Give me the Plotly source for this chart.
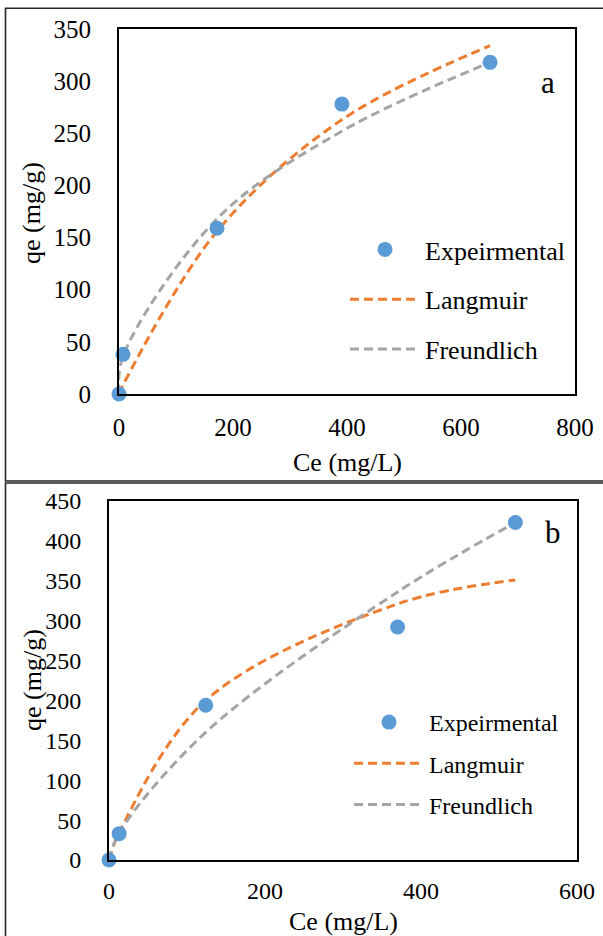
import plotly.graph_objects as go

# ---------------- data ----------------
top_ce = [0, 7, 172, 391, 651]
top_qe_exp = [0, 38, 159, 278, 318]
top_qe_langmuir = [0, 8.6, 156, 263, 334]
top_qe_freundlich = [0, 36, 168, 252, 318]

bot_ce = [0, 13, 124, 370, 521]
bot_qe_exp = [0, 33, 194, 292, 423]
bot_qe_langmuir = [0, 34, 200, 321, 351]
bot_qe_freundlich = [0, 34, 160, 336, 423]

series_names = ["Expeirmental", "Langmuir", "Freundlich"]
x_title = "Ce (mg/L)"
y_title = "qe (mg/g)"
panel_labels = ["a", "b"]

# ---------------- style ----------------
W, H = 603, 936
FONT = "Times New Roman, Liberation Serif, serif"
BLUE = "#5B9BD5"
ORANGE = "#ED7D31"
GRAY = "#A5A5A5"
DASH = "9px,5px"


def px(x):
    return x / W


def py(y):
    return 1 - y / H


fig = go.Figure()


def add_panel(ce, qe, lang, freu, xa, ya, legend):
    fig.add_trace(go.Scatter(
        x=ce, y=lang, name=series_names[1], mode="lines",
        line=dict(color=ORANGE, width=3, dash=DASH, shape="spline"),
        xaxis=xa, yaxis=ya, legend=legend, legendgroup=legend + "l",
        legendrank=2, cliponaxis=False))
    fig.add_trace(go.Scatter(
        x=ce, y=freu, name=series_names[2], mode="lines",
        line=dict(color=GRAY, width=3, dash=DASH, shape="spline"),
        xaxis=xa, yaxis=ya, legend=legend, legendgroup=legend + "f",
        legendrank=3, cliponaxis=False))
    fig.add_trace(go.Scatter(
        x=ce, y=qe, name=series_names[0], mode="markers",
        marker=dict(color=BLUE, size=15),
        xaxis=xa, yaxis=ya, legend=legend, legendgroup=legend + "e",
        legendrank=1, cliponaxis=False))


add_panel(top_ce, top_qe_exp, top_qe_langmuir, top_qe_freundlich, "x", "y", "legend")
add_panel(bot_ce, bot_qe_exp, bot_qe_langmuir, bot_qe_freundlich, "x2", "y2", "legend2")

axis_common = dict(
    showgrid=False, zeroline=False, showline=True, mirror=True,
    linecolor="black", linewidth=2, ticks="",
)

fig.update_layout(
    width=W, height=H,
    margin=dict(l=0, r=0, t=0, b=0, autoexpand=False),
    paper_bgcolor="white", plot_bgcolor="white",
    font=dict(family=FONT, color="black"),
    xaxis=dict(domain=[px(119), px(575)], range=[0, 800], dtick=200,
               anchor="y", ticklabelstandoff=10,
               tickfont=dict(family=FONT, size=25, color="black"), **axis_common),
    yaxis=dict(domain=[py(394), py(29)], range=[0, 350], dtick=50,
               anchor="x", ticklabelstandoff=21,
               tickfont=dict(family=FONT, size=25, color="black"), **axis_common),
    xaxis2=dict(domain=[px(109), px(577)], range=[0, 600], dtick=200,
                anchor="y2", ticklabelstandoff=8,
                tickfont=dict(family=FONT, size=24, color="black"), **axis_common),
    yaxis2=dict(domain=[py(860), py(501)], range=[0, 450], dtick=50,
                anchor="x2", ticklabelstandoff=21,
                tickfont=dict(family=FONT, size=24, color="black"), **axis_common),
    legend=dict(x=px(345), y=py(226), xanchor="left", yanchor="top",
                font=dict(family=FONT, size=26, color="black"),
                bgcolor="rgba(0,0,0,0)", itemwidth=70, tracegroupgap=13,
                itemclick=False),
    legend2=dict(x=px(349), y=py(700), xanchor="left", yanchor="top",
                 font=dict(family=FONT, size=24, color="black"),
                 bgcolor="rgba(0,0,0,0)", itemwidth=70, tracegroupgap=7,
                 itemclick=False),
    showlegend=True,
)

# outer panel frames
frame = dict(type="rect", xref="paper", yref="paper",
             line=dict(color="#262626", width=1.6), fillcolor="rgba(0,0,0,0)",
             layer="below")
fig.add_shape(x0=px(5.5), x1=1.02, y0=py(481), y1=py(8.3), **frame)
fig.add_shape(x0=px(5.5), x1=1.02, y0=-0.02, y1=py(483), **frame)

# axis titles and panel labels
ann_font = dict(family=FONT, size=26, color="black")
for (tx, ty, rot, txt) in [
    (347, 462, 0, x_title), (32, 213, -90, y_title),
    (343, 921, 0, x_title), (32, 680, -90, y_title),
]:
    fig.add_annotation(x=px(tx), y=py(ty), xref="paper", yref="paper",
                       text=txt, showarrow=False, textangle=rot,
                       xanchor="center", yanchor="middle", font=ann_font)
for (tx, ty, txt) in [(548, 82, panel_labels[0]), (553, 532, panel_labels[1])]:
    fig.add_annotation(x=px(tx), y=py(ty), xref="paper", yref="paper",
                       text=txt, showarrow=False, xanchor="center",
                       yanchor="middle", font=dict(family=FONT, size=31, color="black"))

fig.write_html(
    "out.html",
    config={"displayModeBar": False},
    post_script="document.body.style.margin='0';document.body.style.overflow='hidden';",
)
